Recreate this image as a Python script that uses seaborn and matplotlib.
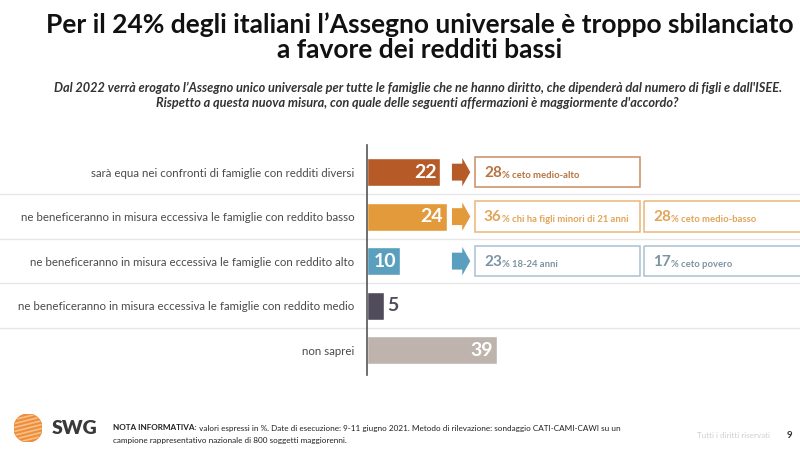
import matplotlib
matplotlib.use("Agg")
from matplotlib import pyplot as plt
from matplotlib.patches import Rectangle, Polygon, Circle
from matplotlib.transforms import blended_transform_factory
import seaborn as sns

# dati
categorie = [
    "sarà equa nei confronti di famiglie con redditi diversi",
    "ne beneficeranno in misura eccessiva le famiglie con reddito basso",
    "ne beneficeranno in misura eccessiva le famiglie con reddito alto",
    "ne beneficeranno in misura eccessiva le famiglie con reddito medio",
    "non saprei",
]
valori = [22, 24, 10, 5, 39]
colori_barre = ["#B65A27", "#E39A3B", "#5A9FBE", "#514C5C", "#BEB4AD"]

# box di approfondimento
box_righe = [0, 1, 1, 2, 2]
box_colonna = [0, 0, 1, 0, 1]
box_valori = [28, 36, 28, 23, 17]
box_etichette = ["ceto medio-alto", "chi ha figli minori di 21 anni",
                 "ceto medio-basso", "18-24 anni", "ceto povero"]
bordo_box = {0: "#C98D62", 1: "#EBB676", 2: "#A9C1CF"}
testo_box = {0: "#B8733F", 1: "#E2A456", 2: "#7C93A3"}
freccia_col = {0: "#B65A27", 1: "#E39A3B", 2: "#5A9FBE"}

sns.set_style("white")
plt.rcParams["font.family"] = ["Lato", "DejaVu Sans"]

fig = plt.figure(figsize=(8, 4.5), dpi=100)
ax = fig.add_axes([367 / 800, 75 / 450, 433 / 800, 230 / 450])

sns.barplot(x=valori, y=categorie, hue=categorie, palette=colori_barre,
            legend=False, width=0.63, saturation=1, ax=ax)

ax.set_xlim(0, 130)
ax.set_ylim(4.56, -0.61)
ax.set_xlabel("")
ax.set_ylabel("")
ax.set_xticks([])
ax.tick_params(axis="y", length=0, pad=9, labelsize=8.3, labelcolor="#4a4a4a")
for s in ["top", "right", "bottom"]:
    ax.spines[s].set_visible(False)
ax.spines["left"].set_color("#555555")
ax.spines["left"].set_linewidth(1.2)

# linee separatrici
tr = blended_transform_factory(fig.transFigure, ax.transData)
for y in [0.5, 1.5, 2.5, 3.5]:
    ax.plot([0, 1], [y, y], transform=tr, color="#e6e6e6", lw=1, clip_on=False, zorder=0)

# etichette valori
for i, v in enumerate(valori):
    if v >= 10:
        ax.text(v - 1.2, i, str(v), ha="right", va="center", color="white",
                fontsize=14, fontweight="bold")
    else:
        ax.text(v + 1.2, i, str(v), ha="left", va="center", color="#514C5C",
                fontsize=14, fontweight="bold")

# frecce
for r in sorted(set(box_righe)):
    pts = [(25.5, r - 0.19), (28.6, r - 0.19), (28.6, r - 0.32), (31.0, r),
           (28.6, r + 0.32), (28.6, r + 0.19), (25.5, r + 0.19)]
    ax.add_patch(Polygon(pts, closed=True, color=freccia_col[r], lw=0))

# box
x_box = [32.4, 83.2]
w_box = [49.6, 50]
for r, c, v, lab in zip(box_righe, box_colonna, box_valori, box_etichette):
    ax.add_patch(Rectangle((x_box[c], r - 0.34), w_box[c], 0.68, fill=False,
                           edgecolor=bordo_box[r], lw=1.1, clip_on=False))
    t = ax.text(x_box[c] + 2.7, r + 0.1, str(v), ha="left", va="baseline",
                color=testo_box[r], fontsize=11, fontweight="bold")
    ax.annotate("% " + lab, xy=(1, 0), xycoords=t, ha="left", va="bottom",
                color=testo_box[r], fontsize=6.8, fontweight="bold")

# titolo e sottotitolo
fig.text(0.525, 0.917, "Per il 24% degli italiani l’Assegno universale è troppo sbilanciato\na favore dei redditi bassi",
         ha="center", va="center", fontsize=19, fontweight="bold", color="#111111",
         linespacing=1.05)
fig.text(0.522, 0.788, "Dal 2022 verrà erogato l’Assegno unico universale per tutte le famiglie che ne hanno diritto, che dipenderà dal numero di figli e dall'ISEE.\nRispetto a questa nuova misura, con quale delle seguenti affermazioni è maggiormente d'accordo?",
         ha="center", va="center", fontsize=9.2, fontweight="bold", fontstyle="italic",
         color="#333333", linespacing=1.3)

# footer: logo
lax = fig.add_axes([14 / 800, 1 - 442 / 450, 28 / 800, 28 / 450])
lax.set_xlim(-1, 1)
lax.set_ylim(-1, 1)
lax.set_aspect("equal")
lax.axis("off")
cerchio = Circle((0, 0), 1, color="#EE8E3A")
lax.add_patch(cerchio)
for k in range(-3, 4):
    ln, = lax.plot([-1, 1], [k * 0.28 - 0.25, k * 0.28 + 0.25], color="#F8C08A", lw=1.2)
    ln.set_clip_path(cerchio)

fig.text(52 / 800, 1 - 429 / 450, "SWG", fontsize=14, fontweight="heavy",
         color="#3a3a3a", va="center")
nota = fig.text(113 / 800, 1 - 428 / 450, "NOTA INFORMATIVA:", fontsize=5.9,
                fontweight="bold", color="#222222", va="center")
ax.annotate(" valori espressi in %. Date di esecuzione: 9-11 giugno 2021. Metodo di rilevazione: sondaggio CATI-CAMI-CAWI su un",
            xy=(1, 0.5), xycoords=nota, ha="left", va="center", fontsize=5.9,
            color="#222222", annotation_clip=False)
fig.text(113 / 800, 1 - 441 / 450,
         "campione rappresentativo nazionale di 800 soggetti maggiorenni.",
         fontsize=5.9, color="#222222", va="center")
fig.text(770 / 800, 1 - 435 / 450, "Tutti i diritti riservati", fontsize=5.8,
         color="#cfcfcf", va="center", ha="right")
fig.text(789 / 800, 1 - 435 / 450, "9", fontsize=7, fontweight="bold",
         color="#333333", va="center", ha="center")

fig.savefig("out.png", dpi=100)
